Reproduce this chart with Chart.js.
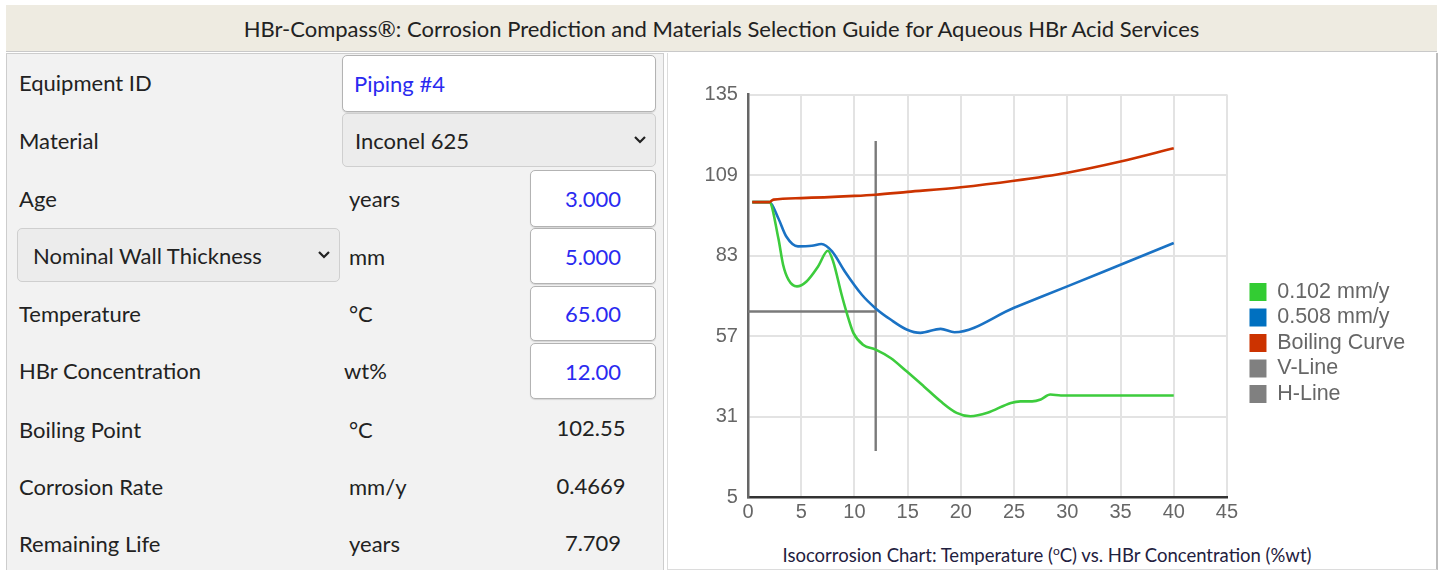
<!DOCTYPE html>
<html><head><meta charset="utf-8">
<script src="https://cdn.jsdelivr.net/npm/chart.js@4.4.1/dist/chart.umd.min.js"></script>
<style>
html,body{margin:0;padding:0;background:#fff;width:1443px;height:570px;overflow:hidden;font-family:Lato,'Open Sans',sans-serif;}
#title{position:absolute;left:6px;top:5px;width:1431px;height:47px;background:#eeebe1;border-bottom:1px solid #c9c9c9;font-size:22px;color:#222;text-align:center;line-height:48px;box-sizing:border-box}
#left{position:absolute;left:6px;top:53px;width:658px;height:520px;background:#f2f2f2;border:1px solid #cdcdcd;box-sizing:border-box}
#right{position:absolute;left:667px;top:53px;width:771px;height:517px;background:#fff;border-left:1px solid #dcdcdc;border-right:2px solid #bdbdbd;border-bottom:1px solid #dcdcdc;box-sizing:border-box}
.lbl{position:absolute;font-size:22px;color:#222;transform:translateY(-50%);white-space:nowrap;line-height:1}
.val{position:absolute;font-size:22px;color:#222;transform:translate(-50%,-50%);white-space:nowrap;line-height:1}
.inp{position:absolute;background:#fff;border:1px solid #b3b3b3;border-radius:5px;box-sizing:border-box;font-size:22px;color:#2a2af0;display:flex;align-items:center;justify-content:center;box-shadow:0 1px 1px rgba(0,0,0,0.12)}
.sel{position:absolute;background:#ececec;border:1px solid #cfcfcf;border-radius:5px;box-sizing:border-box;font-size:22px;color:#222;display:flex;align-items:center}
.sel svg{position:absolute;right:8px;top:50%;margin-top:-5px}
#chartBox{position:absolute;left:690px;top:70px;width:730px;height:460px}
#caption{position:absolute;left:668px;width:758px;top:545px;text-align:center;font-size:18.5px;color:#1f2140;line-height:20px}
#caption sup{font-size:12px;vertical-align:top;line-height:12px}
</style></head>
<body>
<div id="title">HBr-Compass®: Corrosion Prediction and Materials Selection Guide for Aqueous HBr Acid Services</div>
<div id="left"></div>
<div id="right"></div>

<div class="lbl" style="left:19px;top:83px">Equipment ID</div>
<div class="inp" style="left:342px;top:55px;width:314px;height:57px;justify-content:flex-start;padding-left:11px">Piping #4</div>

<div class="lbl" style="left:19px;top:141px">Material</div>
<div class="sel" style="left:342px;top:113px;width:314px;height:54px;padding-left:12px">Inconel 625
<svg width="14" height="10" viewBox="0 0 14 10"><polyline points="2,2 7,7 12,2" fill="none" stroke="#222" stroke-width="2.2"/></svg></div>

<div class="lbl" style="left:19px;top:199px">Age</div>
<div class="lbl" style="left:349px;top:199px">years</div>
<div class="inp" style="left:530px;top:170px;width:126px;height:57px">3.000</div>

<div class="sel" style="left:17px;top:228px;width:323px;height:54px;padding-left:15px">Nominal Wall Thickness
<svg width="14" height="10" viewBox="0 0 14 10"><polyline points="2,2 7,7 12,2" fill="none" stroke="#222" stroke-width="2.2"/></svg></div>
<div class="lbl" style="left:349px;top:257px">mm</div>
<div class="inp" style="left:530px;top:228px;width:126px;height:56px">5.000</div>

<div class="lbl" style="left:19px;top:314px">Temperature</div>
<div class="lbl" style="left:349px;top:314px">°C</div>
<div class="inp" style="left:530px;top:286px;width:126px;height:55px">65.00</div>

<div class="lbl" style="left:19px;top:371px">HBr Concentration</div>
<div class="lbl" style="left:344px;top:371px">wt%</div>
<div class="inp" style="left:530px;top:343px;width:126px;height:56px">12.00</div>

<div class="lbl" style="left:19px;top:430px">Boiling Point</div>
<div class="lbl" style="left:349px;top:430px">°C</div>
<div class="val" style="left:591px;top:428px">102.55</div>

<div class="lbl" style="left:19px;top:487px">Corrosion Rate</div>
<div class="lbl" style="left:349px;top:487px">mm/y</div>
<div class="val" style="left:591px;top:486px">0.4669</div>

<div class="lbl" style="left:19px;top:544px">Remaining Life</div>
<div class="lbl" style="left:349px;top:544px">years</div>
<div class="val" style="left:593px;top:543px">7.709</div>

<div id="chartBox"><canvas id="c"></canvas></div>
<div id="caption">Isocorrosion Chart: Temperature (<sup>o</sup>C) vs. HBr Concentration (%wt)</div>

<script>
// ---- data (HBr wt% on x, temperature °C on y) ----
const greenX = [0.4, 2.0, 2.85, 3.3, 3.8, 4.6, 5.5, 6.6, 7.5, 8.0, 8.8, 9.3, 9.9, 10.8, 12.0, 13.4, 14.9, 16.5, 18.1, 19.6, 20.9, 22.5, 24.7, 25.6, 26.7, 27.5, 28.4, 29.4, 40];
const greenY = [100.3, 100.3, 88.7, 80.1, 75.3, 73.1, 74.7, 79.6, 84.6, 81.2, 70.4, 64.3, 58.1, 54.3, 52.7, 50.0, 45.7, 40.9, 36.0, 32.3, 31.2, 32.3, 35.5, 36.0, 36.0, 36.6, 38.2, 37.9, 37.9];
const blueX = [0.4, 2.0, 2.85, 3.6, 4.7, 6.0, 6.9, 7.9, 9.1, 10.7, 12.0, 13.4, 14.9, 16.2, 18.1, 19.4, 25, 30, 35, 40];
const blueY = [100.3, 100.3, 95.1, 89.2, 86.0, 86.2, 86.8, 84.4, 77.9, 70.4, 66.0, 62.4, 59.2, 58.1, 59.4, 58.3, 66.2, 73.1, 80.1, 87.1];
const boilX = [0.4, 2.0, 2.4, 5, 10, 12, 15, 20, 25, 30, 35, 40];
const boilY = [100.3, 100.3, 101.1, 101.6, 102.3, 102.7, 103.6, 105.1, 107.2, 109.8, 113.4, 117.7];
const vLineX = [12, 12];
const vLineY = [20, 120];
const hLineX = [0, 12];
const hLineY = [65, 65];
const seriesLabels = ['0.102 mm/y', '0.508 mm/y', 'Boiling Curve', 'V-Line', 'H-Line'];
const xTickStep = 5, xMin = 0, xMax = 45;
const yTickStep = 26, yMin = 5, yMax = 135;

const pts = (xs, ys) => xs.map((x, i) => ({x: x, y: ys[i]}));
const FAM = "'Liberation Sans', Arial, Helvetica, sans-serif";

new Chart(document.getElementById('c'), {
  type: 'line',
  data: {
    datasets: [
      {label: seriesLabels[0], data: pts(greenX, greenY), borderColor: '#3dcc3d', backgroundColor: '#33cc33', borderWidth: 2.6, pointRadius: 0, cubicInterpolationMode: 'monotone', order: 1},
      {label: seriesLabels[1], data: pts(blueX, blueY), borderColor: '#1a72c4', backgroundColor: '#0070c0', borderWidth: 2.6, pointRadius: 0, cubicInterpolationMode: 'monotone', order: 2},
      {label: seriesLabels[2], data: pts(boilX, boilY), borderColor: '#cc3300', backgroundColor: '#cc3300', borderWidth: 2.6, pointRadius: 0, cubicInterpolationMode: 'monotone', order: 0},
      {label: seriesLabels[3], data: pts(vLineX, vLineY), borderColor: '#7a7a7a', backgroundColor: '#808080', borderWidth: 2.4, pointRadius: 0, tension: 0, order: 3},
      {label: seriesLabels[4], data: pts(hLineX, hLineY), borderColor: '#7a7a7a', backgroundColor: '#808080', borderWidth: 2.4, pointRadius: 0, tension: 0, order: 4}
    ]
  },
  options: {
    responsive: true, maintainAspectRatio: false, animation: false,
    layout: {padding: {left: 4.6, top: 24.6, right: 4.9, bottom: 2.6}},
    scales: {
      x: {type: 'linear', min: xMin, max: xMax,
          ticks: {stepSize: xTickStep, font: {size: 20, family: FAM}, color: '#666', padding: 3},
          grid: {color: '#e3e3e3', lineWidth: 2, drawTicks: false},
          border: {color: '#333', width: 2.5}},
      y: {type: 'linear', min: yMin, max: yMax,
          ticks: {stepSize: yTickStep, font: {size: 20, family: FAM}, color: '#666', padding: 10},
          grid: {color: '#e3e3e3', lineWidth: 2, drawTicks: false},
          border: {color: '#666', width: 2.5}},
      y2: {type: 'linear', position: 'right', min: yMin, max: yMax, display: true,
           grid: {display: false, drawTicks: false}, border: {display: false}, ticks: {display: false},
           afterFit: function (s) { s.width = 18.5; }}
    },
    plugins: {
      tooltip: {enabled: false},
      legend: {
        position: 'right',
        maxWidth: 300,
        title: {display: true, text: '', padding: {top: 0, bottom: 49.6}},
        labels: {
          boxWidth: 17, boxHeight: 18, padding: 4, color: '#666',
          font: {size: 21.5, family: FAM},
          generateLabels: function (chart) {
            return Chart.defaults.plugins.legend.labels.generateLabels(chart)
              .sort((a, b) => a.datasetIndex - b.datasetIndex)
              .map(l => Object.assign(l, {lineWidth: 0, strokeStyle: 'rgba(0,0,0,0)'}));
          }
        }
      }
    }
  }
});
</script>
</body></html>
